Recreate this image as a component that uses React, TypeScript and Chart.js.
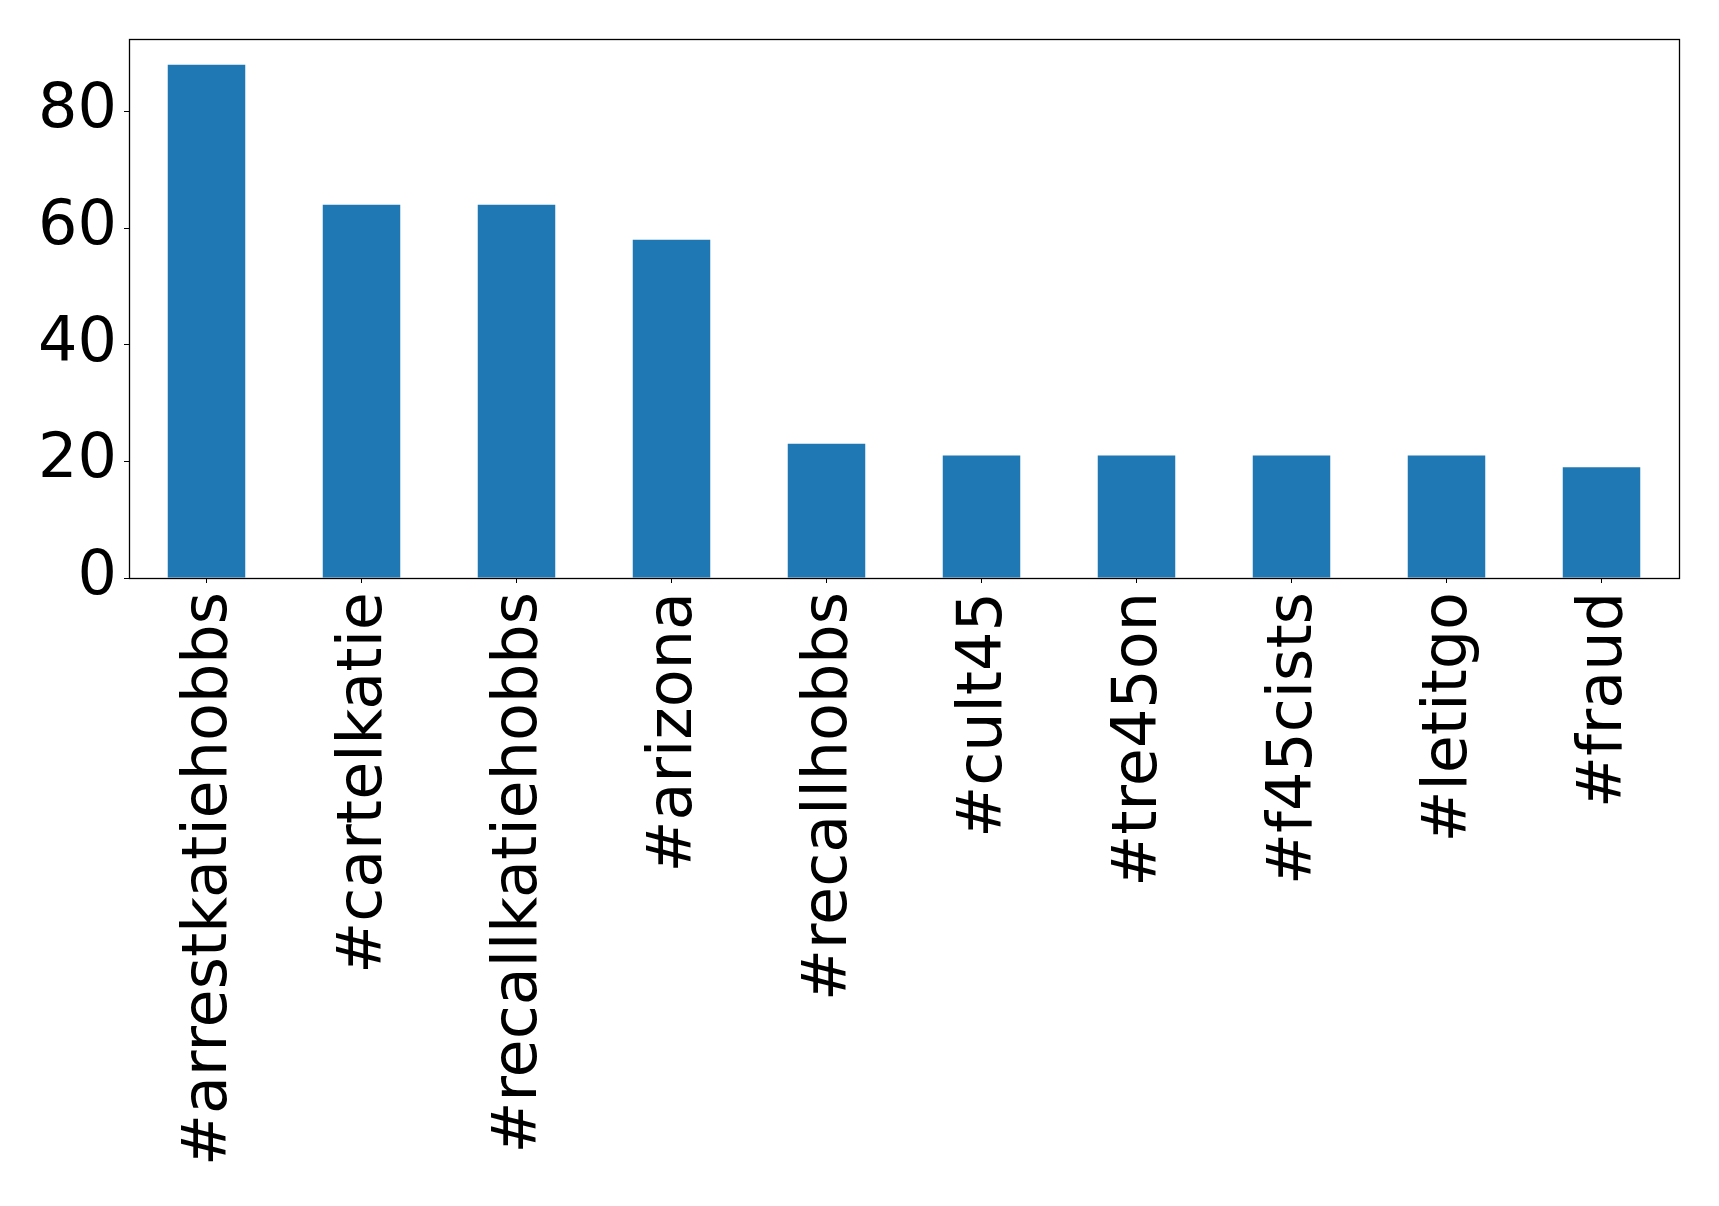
import React, { useEffect, useRef } from "react";
import { Chart, registerables } from "chart.js";

Chart.register(...registerables);

const categories = [
  "#arrestkatiehobbs",
  "#cartelkatie",
  "#recallkatiehobbs",
  "#arizona",
  "#recallhobbs",
  "#cult45",
  "#tre45on",
  "#f45cists",
  "#letitgo",
  "#fraud",
];
const counts = [88, 64, 64, 58, 23, 21, 21, 21, 21, 19];
const yTicks = [0, 20, 40, 60, 80];
const yMax = 92.4;

const W = 1719;
const H = 1206;

const frame = {
  id: "frame",
  afterDatasetsDraw(chart: any) {
    const { ctx, chartArea } = chart;
    ctx.save();
    ctx.strokeStyle = "#000";
    ctx.lineWidth = 1.3;
    ctx.strokeRect(
      Math.round(chartArea.left) + 0.5,
      Math.round(chartArea.top) + 0.5,
      Math.round(chartArea.right - chartArea.left),
      Math.round(chartArea.bottom - chartArea.top)
    );
    ctx.restore();
  },
};

export default function App() {
  const ref = useRef<HTMLCanvasElement | null>(null);
  useEffect(() => {
    if (!ref.current) return;
    const font = { family: "'DejaVu Sans', sans-serif", size: 62 };
    const chart = new Chart(ref.current, {
      type: "bar",
      data: {
        labels: categories,
        datasets: [
          {
            data: counts,
            backgroundColor: "#1f77b4",
            borderWidth: 0,
            categoryPercentage: 1,
            barPercentage: 0.5,
          },
        ],
      },
      options: {
        animation: false,
        responsive: false,
        devicePixelRatio: 1,
        layout: { padding: { top: 39, right: 40, left: 0, bottom: 0 } },
        plugins: { legend: { display: false }, tooltip: { enabled: false } },
        scales: {
          x: {
            grid: {
              offset: false,
              drawOnChartArea: false,
              drawTicks: true,
              tickLength: 5,
              color: "#000",
              lineWidth: 1,
            },
            border: { display: true, color: "#000", width: 1 },
            ticks: {
              font,
              color: "#000",
              minRotation: 90,
              maxRotation: 90,
              padding: 9,
              labelOffset: 3,
              autoSkip: false,
            },
            afterFit: (s: any) => {
              s.height = H - 578;
              s.paddingLeft = 0;
              s.paddingRight = 0;
            },
          },
          y: {
            min: 0,
            max: yMax,
            grid: {
              drawOnChartArea: false,
              drawTicks: true,
              tickLength: 5,
              color: "#000",
              lineWidth: 1,
            },
            border: { display: true, color: "#000", width: 1 },
            afterBuildTicks: (s: any) => {
              s.ticks = yTicks.map((v) => ({ value: v }));
            },
            ticks: {
              font,
              color: "#000",
              padding: 7,
              includeBounds: false,
            },
            afterFit: (s: any) => {
              s.width = 129;
              s.paddingTop = 0;
              s.paddingBottom = 0;
            },
          },
        },
      },
      plugins: [frame],
    });
    return () => chart.destroy();
  }, []);
  return (
    <div style={{ position: "fixed", left: 0, top: 0, width: W, height: H, background: "#fff" }}>
      <canvas ref={ref} width={W} height={H} style={{ width: W, height: H }} />
    </div>
  );
}
